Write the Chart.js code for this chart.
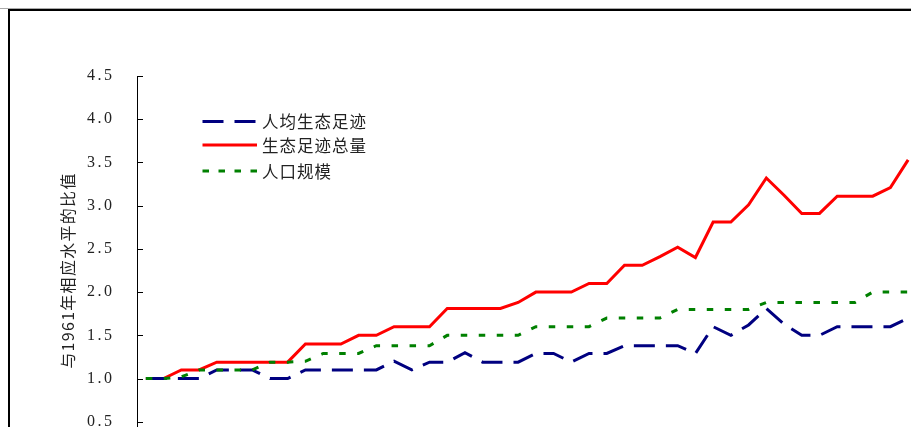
<!DOCTYPE html>
<html><head><meta charset="utf-8">
<script src="https://cdn.jsdelivr.net/npm/chart.js@4.4.1/dist/chart.umd.min.js"></script>
<style>
html,body{margin:0;padding:0;width:911px;height:427px;overflow:hidden;background:#fff;}
#topline{position:absolute;left:0;top:8px;width:2000px;height:1px;background:#aaa;}
#frame{position:absolute;left:8px;top:9px;width:2000px;height:2000px;border-left:2px solid #000;border-top:2px solid #000;}
#c{position:absolute;left:0;top:0;}
</style></head><body>
<div id="topline"></div>
<div id="frame"></div>
<canvas id="c" width="917" height="490"></canvas>
<script>
const years = ['1961','1962','1963','1964','1965','1966','1967','1968','1969','1970',
  '1971','1972','1973','1974','1975','1976','1977','1978','1979','1980',
  '1981','1982','1983','1984','1985','1986','1987','1988','1989','1990',
  '1991','1992','1993','1994','1995','1996','1997','1998','1999','2000',
  '2001','2002','2003','2004'];
const perCapita = [1.0,1.0,1.0,1.0,1.1,1.1,1.1,1.0,1.0,1.1,
  1.1,1.1,1.1,1.1,1.2,1.1,1.19,1.19,1.3,1.19,
  1.19,1.19,1.29,1.29,1.19,1.29,1.29,1.38,1.38,1.38,
  1.38,1.29,1.6,1.5,1.62,1.81,1.63,1.5,1.5,1.6,
  1.6,1.6,1.6,1.7];
const totalFootprint = [1.0,1.0,1.1,1.1,1.19,1.19,1.19,1.19,1.19,1.4,
  1.4,1.4,1.5,1.5,1.6,1.6,1.6,1.81,1.81,1.81,
  1.81,1.88,2.0,2.0,2.0,2.1,2.1,2.31,2.31,2.41,
  2.52,2.4,2.81,2.81,3.01,3.32,3.12,2.91,2.91,3.11,
  3.11,3.11,3.21,3.53];
const population = [1.0,1.0,1.02,1.1,1.1,1.1,1.1,1.19,1.19,1.2,
  1.29,1.29,1.29,1.38,1.38,1.38,1.38,1.5,1.5,1.5,
  1.5,1.5,1.6,1.6,1.6,1.6,1.7,1.7,1.7,1.7,
  1.8,1.8,1.8,1.8,1.8,1.88,1.88,1.88,1.88,1.88,
  1.88,2.0,2.0,2.0];
const seriesNames = ['人均生态足迹','生态足迹总量','人口规模'];
const yTitle = '与1961年相应水平的比值';

const spacingPlugin = {
  id: 'spacing',
  beforeDraw(chart) { chart.ctx.letterSpacing = '1.3px'; },
  afterDatasetsDraw(chart) { chart.ctx.letterSpacing = '2.5px'; }
};

const legendPlugin = {
  id: 'customLegend',
  afterDraw(chart) {
    const ctx = chart.ctx;
    const rows = [121.5, 145, 171];
    const dashes = [[21, 11], [], [6.5, 9.5]];
    chart.data.datasets.forEach((ds, i) => {
      const y = rows[i];
      ctx.save();
      ctx.letterSpacing = '1px';
      ctx.strokeStyle = ds.borderColor;
      ctx.lineWidth = 3;
      ctx.lineCap = 'butt';
      ctx.setLineDash(dashes[i]);
      ctx.beginPath();
      ctx.moveTo(202.5, y);
      ctx.lineTo(257, y);
      ctx.stroke();
      ctx.setLineDash([]);
      ctx.fillStyle = '#222';
      ctx.font = '16.5px "Noto Sans CJK SC"';
      ctx.textBaseline = 'middle';
      ctx.textAlign = 'left';
      ctx.fillText(ds.label, 262, y + 0.5);
      ctx.restore();
    });
  }
};

const innerTicks = {
  id: 'innerTicks',
  afterDraw(chart) {
    const s = chart.scales.y;
    const ctx = chart.ctx;
    ctx.save();
    ctx.strokeStyle = '#000';
    ctx.lineWidth = 1;
    s.ticks.forEach(t => {
      const y = Math.round(s.getPixelForValue(t.value)) + 0.5;
      ctx.beginPath();
      ctx.moveTo(s.right, y);
      ctx.lineTo(s.right + 6, y);
      ctx.stroke();
    });
    ctx.restore();
  }
};

new Chart(document.getElementById('c'), {
  type: 'line',
  data: {
    labels: years,
    datasets: [
      { label: seriesNames[0], data: perCapita, borderColor: '#000080', borderWidth: 3,
        borderDash: [21, 11], pointRadius: 0, tension: 0, fill: false, order: 1 },
      { label: seriesNames[1], data: totalFootprint, borderColor: '#ff0000', borderWidth: 3,
        pointRadius: 0, tension: 0, fill: false, order: 2 },
      { label: seriesNames[2], data: population, borderColor: '#008000', borderWidth: 3,
        borderDash: [6.5, 11.5], pointRadius: 0, tension: 0, fill: false, order: 0 }
    ]
  },
  options: {
    responsive: false,
    animation: false,
    layout: { padding: { left: 0, top: 76, right: 0, bottom: 25 } },
    plugins: { legend: { display: false }, tooltip: { enabled: false } },
    scales: {
      x: { type: 'category', display: false, offset: true },
      y: {
        min: 0, max: 4.5,
        afterFit(scale) { scale.width = 137; scale.paddingTop = 0; scale.paddingBottom = 0; },
        ticks: { stepSize: 0.5, padding: 22.5, color: '#222', z: 1,
          font: { family: '"Liberation Serif"', size: 16 },
          callback: v => Number(v).toFixed(1) },
        grid: { display: true, drawOnChartArea: false, drawTicks: false },
        border: { display: true, color: '#000', width: 1 },
        title: { display: true, text: yTitle, color: '#222',
          font: { family: '"Noto Sans CJK SC"', size: 16 },
          padding: { top: 58, bottom: 0 } }
      }
    }
  },
  plugins: [spacingPlugin, legendPlugin, innerTicks]
});
</script>
</body></html>
